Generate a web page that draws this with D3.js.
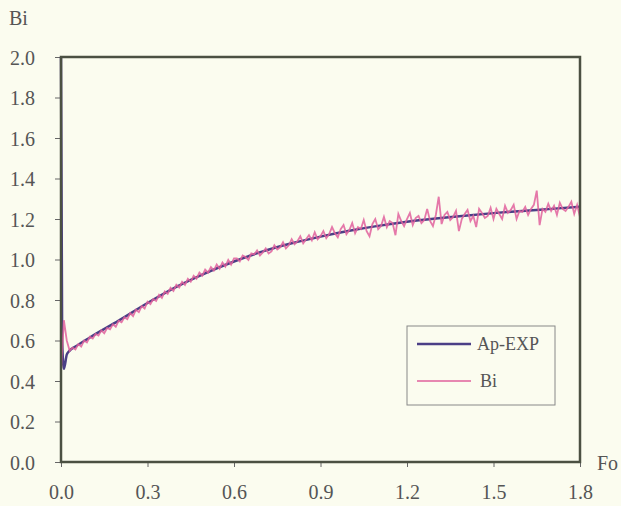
<!DOCTYPE html>
<html>
<head>
<meta charset="UTF-8">
<script src="https://d3js.org/d3.v7.min.js"></script>
<style>
  body { margin: 0; background: #fbfcef; }
  svg text { font-family: "Times New Roman", Times, "Liberation Serif", serif; fill: #555; }
</style>
</head>
<body>
<div id="chart"></div>
<script>
// axis ticks
var xTicks = [0.0, 0.3, 0.6, 0.9, 1.2, 1.5, 1.8];
var yTicks = [0.0, 0.2, 0.4, 0.6, 0.8, 1.0, 1.2, 1.4, 1.6, 1.8, 2.0];

// Ap-EXP (smooth fit)
var apFo  = [0, 0.004, 0.01, 0.02, 0.03, 0.05, 0.1, 0.2, 0.3, 0.4, 0.5, 0.6, 0.7, 0.8, 0.9, 1.0, 1.1, 1.2, 1.3, 1.4, 1.5, 1.6, 1.7, 1.8];
var apVal = [2.0, 0.6, 0.46, 0.53, 0.55, 0.57, 0.615, 0.698, 0.785, 0.865, 0.932, 0.99, 1.04, 1.08, 1.113, 1.142, 1.166, 1.186, 1.202, 1.216, 1.229, 1.24, 1.25, 1.26];

// Bi (measured), sampled every 0.01 in Fo
var biStep = 0.01;
var biVal = [
  0.45, 0.70, 0.60,
  0.55, 0.565, 0.556, 0.582, 0.57, 0.60, 0.59, 0.618,
  0.61, 0.632, 0.624, 0.65, 0.636, 0.662, 0.655, 0.68, 0.668, 0.698,
  0.69, 0.715, 0.705, 0.735, 0.72, 0.752, 0.74, 0.77, 0.758, 0.792,
  0.78, 0.805, 0.795, 0.825, 0.81, 0.842, 0.83, 0.86, 0.845, 0.875,
  0.862, 0.89, 0.875, 0.905, 0.89, 0.92, 0.905, 0.935, 0.92, 0.95,
  0.935, 0.962, 0.945, 0.975, 0.955, 0.985, 0.965, 0.998, 0.975, 1.005,
  1.005, 0.99, 1.02, 1.012, 0.998, 1.03, 1.025, 1.045, 1.02, 1.035,
  1.055, 1.03, 1.04, 1.07, 1.05, 1.06, 1.085, 1.055, 1.07, 1.10,
  1.075, 1.09, 1.115, 1.08, 1.10, 1.12, 1.095, 1.135, 1.10, 1.115,
  1.14, 1.105, 1.125, 1.16, 1.13, 1.11, 1.15, 1.17, 1.125, 1.145,
  1.18, 1.13, 1.16, 1.15, 1.195, 1.14, 1.115, 1.175, 1.20, 1.15,
  1.165, 1.21, 1.16, 1.19, 1.18, 1.12, 1.225, 1.19, 1.165, 1.20,
  1.23, 1.17, 1.205, 1.215, 1.18, 1.195, 1.25, 1.19, 1.165, 1.22,
  1.31, 1.175, 1.22, 1.235, 1.195, 1.21, 1.24, 1.14, 1.20, 1.225,
  1.245, 1.19, 1.215, 1.16, 1.25, 1.23, 1.205, 1.215, 1.255, 1.20,
  1.25, 1.225, 1.20, 1.265, 1.23, 1.245, 1.27, 1.20, 1.24, 1.235,
  1.26, 1.22, 1.25, 1.27, 1.34, 1.17, 1.25, 1.235, 1.275, 1.24,
  1.265, 1.22, 1.28, 1.25, 1.24, 1.26, 1.285, 1.225, 1.27, 1.21
];

var seriesNames = ["Ap-EXP", "Bi"];
var seriesColors = ["#4b3f86", "#e0609c"];

var W = 621, H = 506;
var margin = {top: 57, right: 41, bottom: 44, left: 61};
var width = W - margin.left - margin.right,
    height = H - margin.top - margin.bottom;

var svg = d3.select("#chart").append("svg")
    .attr("width", W).attr("height", H)
    .style("background", "#fbfcef");

var g = svg.append("g")
    .attr("transform", "translate(" + margin.left + "," + margin.top + ")");

var x = d3.scaleLinear().domain([0, 1.8]).range([0, width]);
var y = d3.scaleLinear().domain([0, 2.0]).range([height, 0]);

// axes
var yAxis = g.append("g")
    .call(d3.axisLeft(y).tickValues(yTicks).tickFormat(d3.format(".1f")).tickSize(6).tickPadding(20));
yAxis.select(".domain").remove();
yAxis.selectAll("line").attr("stroke", "#666");
yAxis.selectAll("text").style("font-size", "20px").attr("dy", "0.36em");

var xAxis = g.append("g")
    .attr("transform", "translate(0," + height + ")")
    .call(d3.axisBottom(x).tickValues(xTicks).tickFormat(d3.format(".1f")).tickSize(5).tickPadding(18));
xAxis.select(".domain").remove();
xAxis.selectAll("line").attr("stroke", "#666");
xAxis.selectAll("text").style("font-size", "20px");

// lines
var apData = apFo.map(function(f, i) { return [f, apVal[i]]; });
var biData = biVal.map(function(v, i) { return [i * biStep, v]; });

g.append("path")
    .datum(apData)
    .attr("fill", "none")
    .attr("stroke", seriesColors[0])
    .attr("stroke-width", 2.5)
    .attr("d", d3.line().curve(d3.curveMonotoneX)
        .x(function(d) { return x(d[0]); }).y(function(d) { return y(d[1]); }));

g.append("path")
    .datum(biData)
    .attr("fill", "none")
    .attr("stroke", seriesColors[1])
    .attr("stroke-width", 1.8)
    .attr("stroke-opacity", 0.85)
    .attr("d", d3.line().x(function(d) { return x(d[0]); }).y(function(d) { return y(d[1]); }));

// frame
g.append("rect")
    .attr("width", width).attr("height", height)
    .attr("fill", "none")
    .attr("stroke", "#4b5042")
    .attr("stroke-width", 2.5);

// axis titles
svg.append("text").attr("x", 9).attr("y", 25).style("font-size", "20px").text("Bi");
svg.append("text").attr("x", 597).attr("y", 470).style("font-size", "20px").text("Fo");

// legend
var legend = svg.append("g").attr("transform", "translate(407,326)");
legend.append("rect")
    .attr("width", 148).attr("height", 79)
    .attr("fill", "#fbfcef")
    .attr("stroke", "#888").attr("stroke-width", 1);

var item = legend.selectAll(".item")
    .data(seriesNames)
    .enter().append("g")
    .attr("transform", function(d, i) { return "translate(0," + (18 + i * 37) + ")"; });

item.append("line")
    .attr("x1", 10).attr("x2", 64)
    .attr("stroke", function(d, i) { return seriesColors[i]; })
    .attr("stroke-width", function(d, i) { return i === 0 ? 2.5 : 1.3; });

item.append("text")
    .attr("x", function(d, i) { return i === 0 ? 70 : 73; })
    .attr("dy", "0.35em")
    .style("font-size", "18px")
    .text(function(d) { return d; });
</script>
</body>
</html>
